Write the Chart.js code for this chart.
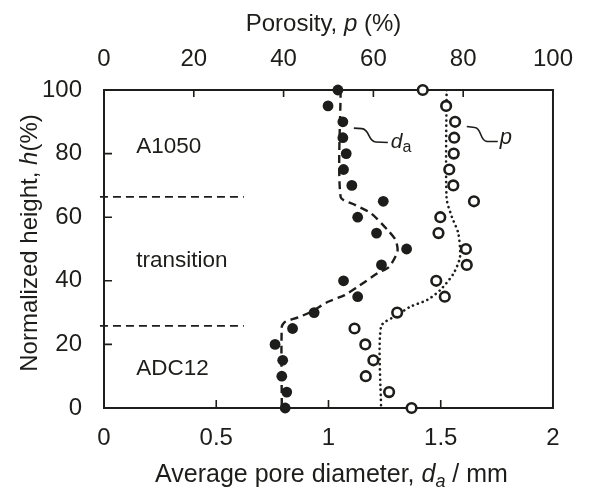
<!DOCTYPE html>
<html>
<head>
<meta charset="utf-8">
<script src="https://cdn.jsdelivr.net/npm/chart.js@4.4.1/dist/chart.umd.min.js"></script>
<style>
  html, body { margin: 0; padding: 0; background: #fff; }
  canvas { display: block; }
</style>
</head>
<body>
<canvas id="poreChart" width="589" height="493"></canvas>
<script>
// normalized height of each sample (%)
const heights = [100, 95, 90, 85, 80, 75, 70, 65, 60, 55, 50, 45, 40, 35, 30, 25, 20, 15, 10, 5, 0];
// average pore diameter d_a (mm), bottom axis
const diameter = [1.042, 0.998, 1.064, 1.064, 1.079, 1.067, 1.104, 1.244, 1.130, 1.214, 1.348,
                  1.236, 1.067, 1.130, 0.936, 0.840, 0.762, 0.796, 0.792, 0.814, 0.807];
// porosity p (%), top axis
const porosity = [71.0, 76.2, 78.2, 78.0, 77.9, 76.9, 77.8, 82.4, 74.9, 74.5, 80.6,
                  80.8, 74.0, 75.9, 65.3, 55.8, 58.2, 60.0, 58.3, 63.5, 68.5];

// hand drawn guide curves
const dTrendX = [1.054, 1.054, 1.12, 1.19, 1.263, 1.299, 1.307, 1.27, 1.219, 1.13, 1.072, 0.998, 0.924, 0.865, 0.807, 0.792, 0.792];
const dTrendH = [100, 66.4, 63.8, 61.2, 56, 52.8, 49.2, 44.4, 42.4, 38.1, 35.5, 33.4, 30.3, 28.5, 27.1, 25.6, 0];
const pTrendX = [76.3, 76.3, 77.5, 78.9, 79.3, 77.9, 74.9, 72.0, 68.3, 65.3, 61.7, 61.7];
const pTrendH = [100, 66, 60, 55, 47.6, 42.4, 37.1, 34, 31.9, 29.2, 25.6, 0];

// region boundaries (h) and labels
const boundaryH = [66.4, 25.8];
const boundaryX = [-0.018, 0.623];
const regionNames = ["A1050", "transition", "ADC12"];
const regionH = [80.3, 44.4, 10.4];

const xTicks = [0, 0.5, 1, 1.5, 2];
const topTicks = [0, 20, 40, 60, 80, 100];
const yTicks = [0, 20, 40, 60, 80, 100];

const ink = "#1d1d1b";
const fam = '"Liberation Sans", Arial, sans-serif';

function pts(xs, ys) {
  let out = [];
  for (let i = 0; i < xs.length; i++) out.push({ x: xs[i], y: ys[i] });
  return out;
}

// draw text made of several runs (mixed italic / subscript)
function drawRuns(ctx, runs, x, y, align) {
  let total = 0;
  runs.forEach(r => { ctx.font = r.f; r.w = ctx.measureText(r.t).width; total += r.w; });
  let cx = align === "center" ? x - total / 2 : x;
  ctx.textAlign = "left";
  ctx.textBaseline = "alphabetic";
  runs.forEach(r => {
    ctx.font = r.f;
    ctx.fillText(r.t, cx, y + (r.dy || 0));
    cx += r.w;
  });
}

const overlay = {
  id: "overlay",
  beforeDatasetsDraw(chart) {
    const { ctx, chartArea: a, scales } = chart;
    ctx.save();
    ctx.strokeStyle = ink;
    ctx.lineWidth = 2;
    ctx.strokeRect(a.left, a.top, a.right - a.left, a.bottom - a.top);
    ctx.lineWidth = 1.6;
    ctx.beginPath();
    xTicks.slice(1, -1).forEach(v => {
      const px = scales.x.getPixelForValue(v);
      ctx.moveTo(px, a.bottom); ctx.lineTo(px, a.bottom - 8);
    });
    topTicks.slice(1, -1).forEach(v => {
      const px = scales.x2.getPixelForValue(v);
      ctx.moveTo(px, a.top); ctx.lineTo(px, a.top + 7);
    });
    yTicks.slice(1, -1).forEach(v => {
      const py = scales.y.getPixelForValue(v);
      ctx.moveTo(a.left, py); ctx.lineTo(a.left + 8, py);
    });
    ctx.stroke();
    ctx.restore();
  },
  afterDraw(chart) {
    const { ctx, chartArea: a, scales } = chart;
    const f = (s, it) => (it ? "italic " : "") + s + "px " + fam;
    ctx.save();
    ctx.fillStyle = ink;
    ctx.strokeStyle = ink;

    // axis titles
    const midX = (a.left + a.right) / 2;
    drawRuns(ctx, [{ t: "Porosity, ", f: f(24) }, { t: "p", f: f(24, true) }, { t: " (%)", f: f(24) }], midX - 5, 31, "center");
    drawRuns(ctx, [{ t: "Average pore diameter, ", f: f(25) }, { t: "d", f: f(25, true) },
                   { t: "a", f: f(18, true), dy: 5 }, { t: " / mm", f: f(25) }], midX + 3, 482, "center");
    ctx.save();
    ctx.translate(37, 243);
    ctx.rotate(-Math.PI / 2);
    drawRuns(ctx, [{ t: "Normalized height, ", f: f(24) }, { t: "h", f: f(24, true) }, { t: "(%)", f: f(24) }], 0, 0, "center");
    ctx.restore();

    // region labels
    ctx.font = f(22.5);
    regionNames.forEach((name, i) => {
      ctx.textAlign = "left";
      ctx.fillText(name, scales.x.getPixelForValue(0.144), scales.y.getPixelForValue(regionH[i]));
    });

    // leader for d_a
    ctx.lineWidth = 1.6;
    let ax = scales.x.getPixelForValue(1.113), ay = scales.y.getPixelForValue(88);
    ctx.beginPath();
    ctx.moveTo(ax, ay);
    ctx.lineTo(ax + 8, ay + 0.5);
    ctx.bezierCurveTo(ax + 16, ay + 1, ax + 14, ay + 13.5, ax + 22, ay + 13.8);
    ctx.lineTo(ax + 34, ay + 14.3);
    ctx.stroke();
    drawRuns(ctx, [{ t: "d", f: f(21, true) }, { t: "a", f: f(16) , dy: 4 }], ax + 37, ay + 20, "left");

    // leader for p
    ax = scales.x2.getPixelForValue(80.8); ay = scales.y.getPixelForValue(88.5);
    ctx.beginPath();
    ctx.moveTo(ax, ay);
    ctx.lineTo(ax + 8, ay + 1);
    ctx.bezierCurveTo(ax + 15, ay + 1.5, ax + 13, ay + 14.5, ax + 20, ay + 14.8);
    ctx.lineTo(ax + 31, ay + 15);
    ctx.stroke();
    drawRuns(ctx, [{ t: "p", f: f(22, true) }], ax + 33, ay + 17.5, "left");

    ctx.restore();
  }
};

const tickFont = { family: fam, size: 24 };

new Chart(document.getElementById("poreChart"), {
  type: "scatter",
  data: {
    datasets: [
      {
        data: pts(diameter, heights), xAxisID: "x", yAxisID: "y",
        pointRadius: 5.4, pointBackgroundColor: ink, pointBorderWidth: 0, showLine: false, clip: false
      },
      {
        data: pts(porosity, heights), xAxisID: "x2", yAxisID: "y",
        pointRadius: 4.8, pointBackgroundColor: "#fff", pointBorderColor: ink, pointBorderWidth: 2.6,
        showLine: false, clip: false
      },
      {
        data: pts(dTrendX, dTrendH), xAxisID: "x", yAxisID: "y",
        showLine: true, pointRadius: 0, borderColor: ink, borderWidth: 2.4, borderDash: [8, 5], tension: 0.25
      },
      {
        data: pts(pTrendX, pTrendH), xAxisID: "x2", yAxisID: "y",
        showLine: true, pointRadius: 0, borderColor: ink, borderWidth: 2.6, borderDash: [0.1, 5],
        borderCapStyle: "round", tension: 0.25
      },
      {
        data: pts(boundaryX, [boundaryH[0], boundaryH[0]]), xAxisID: "x", yAxisID: "y",
        showLine: true, pointRadius: 0, borderColor: ink, borderWidth: 1.8, borderDash: [8, 5], clip: false
      },
      {
        data: pts(boundaryX, [boundaryH[1], boundaryH[1]]), xAxisID: "x", yAxisID: "y",
        showLine: true, pointRadius: 0, borderColor: ink, borderWidth: 1.8, borderDash: [8, 5], clip: false
      }
    ]
  },
  options: {
    responsive: false,
    devicePixelRatio: 1,
    animation: false,
    layout: { padding: { left: 0, right: 32, top: 0, bottom: 0 } },
    plugins: { legend: { display: false }, tooltip: { enabled: false } },
    scales: {
      x: {
        type: "linear", position: "bottom", min: 0, max: 2,
        afterBuildTicks: s => { s.ticks = xTicks.map(v => ({ value: v })); },
        ticks: { font: tickFont, color: ink, padding: 16, maxRotation: 0, callback: v => String(v) },
        grid: { display: false, drawTicks: false }, border: { display: false },
        afterFit: s => { s.height = 85; }
      },
      x2: {
        type: "linear", position: "top", min: 0, max: 100,
        afterBuildTicks: s => { s.ticks = topTicks.map(v => ({ value: v })); },
        ticks: { font: tickFont, color: ink, padding: 16, maxRotation: 0, callback: v => String(v) },
        grid: { display: false, drawTicks: false }, border: { display: false },
        afterFit: s => { s.height = 90; }
      },
      y: {
        type: "linear", position: "left", min: 0, max: 100,
        afterBuildTicks: s => { s.ticks = yTicks.map(v => ({ value: v })); },
        ticks: { font: tickFont, color: ink, padding: 22, callback: v => String(v) },
        grid: { display: false, drawTicks: false }, border: { display: false },
        afterFit: s => { s.width = 104; }
      }
    }
  },
  plugins: [overlay]
});
</script>
</body>
</html>
